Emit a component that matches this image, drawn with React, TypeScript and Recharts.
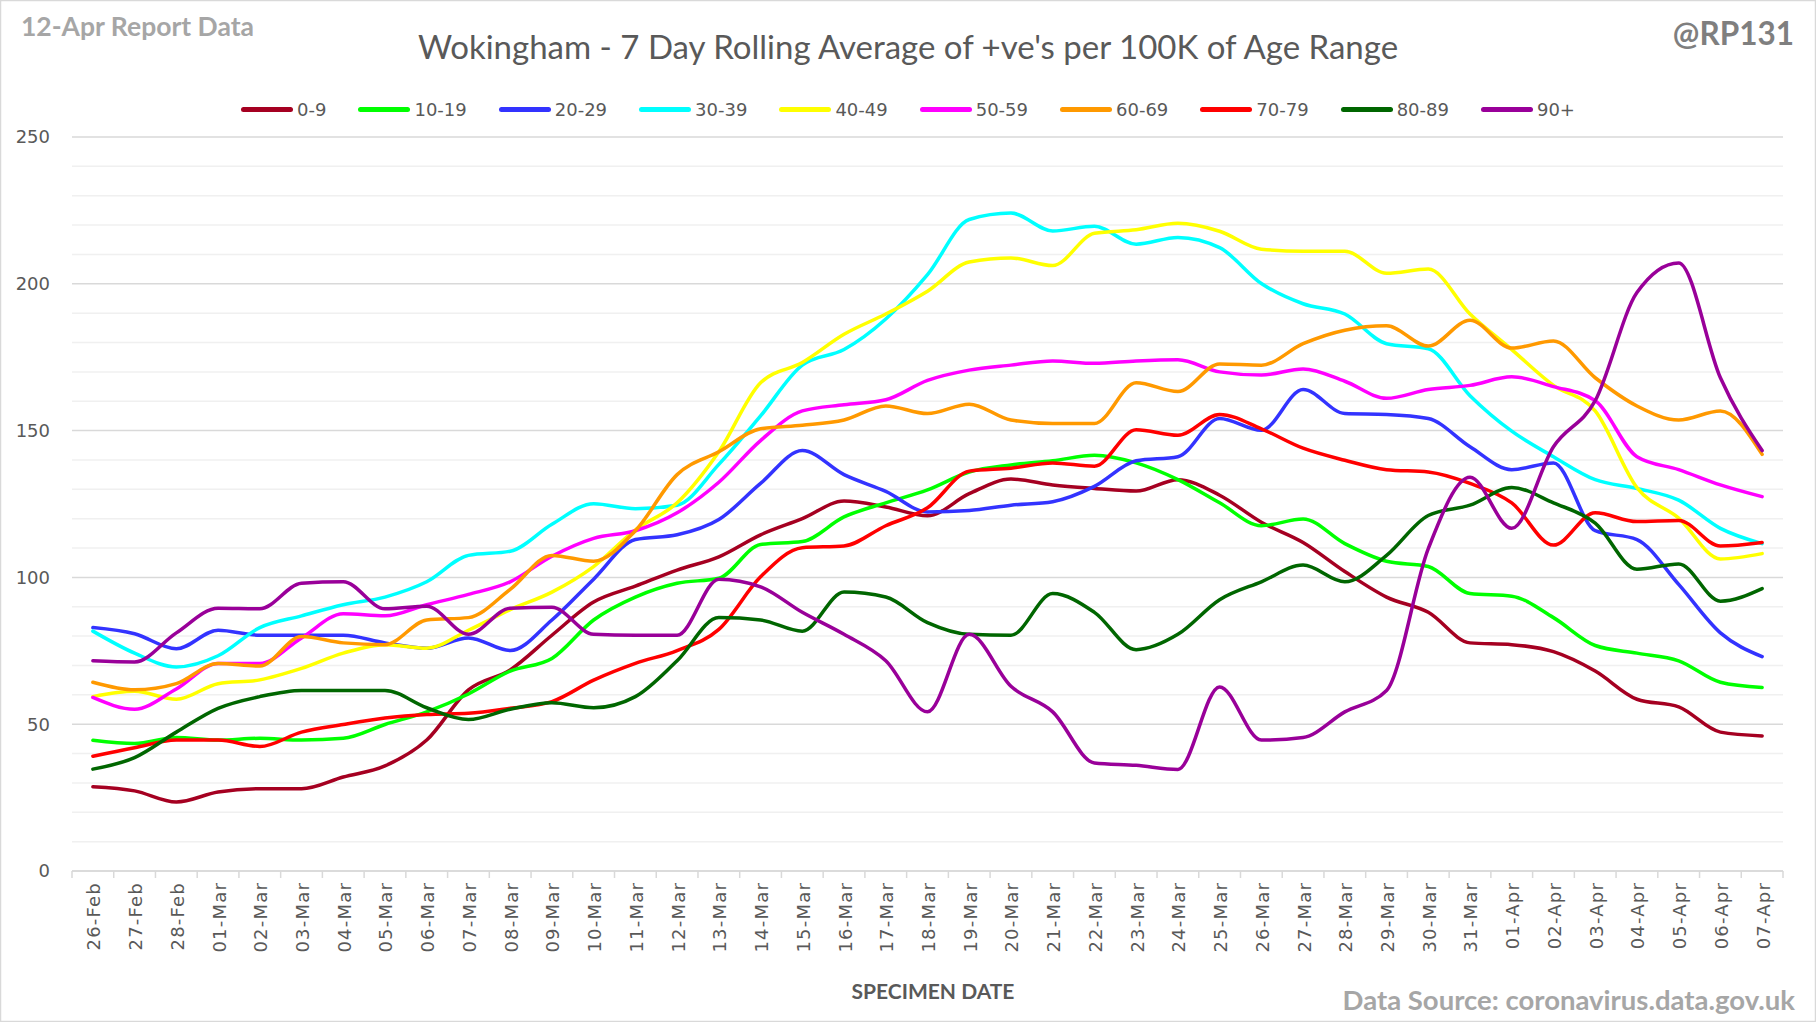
import React from 'react';
import { LineChart, Line, XAxis, YAxis, CartesianGrid, ReferenceLine } from 'recharts';

const categories = [
  '26-Feb', '27-Feb', '28-Feb',
  '01-Mar', '02-Mar', '03-Mar', '04-Mar', '05-Mar', '06-Mar', '07-Mar', '08-Mar', '09-Mar', '10-Mar',
  '11-Mar', '12-Mar', '13-Mar', '14-Mar', '15-Mar', '16-Mar', '17-Mar', '18-Mar', '19-Mar', '20-Mar',
  '21-Mar', '22-Mar', '23-Mar', '24-Mar', '25-Mar', '26-Mar', '27-Mar', '28-Mar', '29-Mar', '30-Mar', '31-Mar',
  '01-Apr', '02-Apr', '03-Apr', '04-Apr', '05-Apr', '06-Apr', '07-Apr',
];

const s0_9 = [28.7, 27.3, 23.5, 26.9, 28.0, 28.0, 32.0, 35.8, 44.6, 61.7, 68.5, 80.3, 91.6, 97.0, 102.5, 107.0, 114.5, 120.0, 126.0, 124.0, 121.0, 128.5, 133.5, 131.5, 130.3, 129.4, 133.3, 128.0, 118.8, 111.9, 102.0, 93.3, 88.1, 77.7, 77.1, 74.7, 68.1, 58.5, 55.9, 47.3, 46.0];
const s10_19 = [44.5, 43.4, 45.5, 44.6, 45.2, 44.6, 45.2, 49.9, 54.2, 60.3, 68.1, 72.4, 85.5, 93.3, 98.0, 99.7, 111.2, 112.2, 120.6, 125.4, 129.8, 135.9, 138.3, 139.7, 141.6, 139.0, 133.3, 125.4, 117.6, 119.9, 111.5, 105.5, 103.7, 94.5, 93.6, 86.3, 76.8, 74.2, 71.6, 64.3, 62.5];
const s20_29 = [82.9, 80.8, 75.7, 82.0, 80.3, 80.3, 80.3, 77.7, 75.9, 79.4, 75.1, 85.5, 99.4, 112.9, 114.5, 119.7, 132.0, 143.2, 135.0, 129.3, 122.3, 122.8, 124.6, 125.8, 131.0, 139.7, 141.1, 154.1, 150.1, 164.0, 155.8, 155.5, 154.1, 144.5, 136.7, 139.0, 115.9, 112.9, 97.6, 81.1, 73.0];
const s30_39 = [81.7, 74.2, 69.5, 73.3, 82.9, 86.9, 90.7, 93.3, 98.5, 107.5, 108.9, 118.1, 125.1, 123.4, 124.6, 138.5, 155.0, 172.3, 177.6, 188.0, 203.1, 221.9, 224.1, 218.0, 219.6, 213.5, 215.8, 212.3, 200.1, 193.2, 189.7, 179.6, 177.9, 161.9, 149.8, 141.1, 133.3, 130.3, 126.3, 116.7, 111.5];
const s40_49 = [59.4, 61.2, 58.5, 63.8, 65.1, 69.0, 74.2, 77.1, 75.9, 82.0, 89.0, 95.0, 103.7, 116.2, 125.4, 142.8, 166.3, 173.2, 182.8, 189.7, 197.5, 207.4, 208.8, 206.2, 217.2, 218.4, 220.6, 217.9, 211.8, 211.1, 211.1, 203.6, 205.0, 189.7, 177.6, 165.4, 156.7, 130.6, 120.2, 106.3, 108.1];
const s50_59 = [59.1, 55.1, 62.0, 70.7, 70.7, 79.4, 87.6, 86.9, 90.7, 94.2, 98.5, 107.2, 113.3, 115.9, 122.0, 132.4, 146.6, 156.7, 158.8, 160.5, 167.1, 170.6, 172.3, 173.7, 172.9, 173.7, 174.1, 170.0, 168.9, 171.0, 166.8, 161.0, 164.0, 165.4, 168.3, 165.0, 160.2, 141.1, 136.7, 131.5, 127.5];
const s60_69 = [64.3, 61.7, 63.8, 70.7, 69.8, 79.9, 77.7, 77.1, 85.5, 86.3, 95.9, 107.5, 105.5, 115.9, 135.0, 142.8, 150.6, 151.8, 153.6, 158.4, 155.8, 159.0, 153.6, 152.4, 152.4, 166.3, 163.3, 172.7, 172.3, 179.6, 184.2, 185.7, 178.8, 187.6, 178.1, 180.5, 168.0, 158.4, 153.6, 156.7, 141.9];
const s70_79 = [39.1, 42.0, 44.6, 44.6, 42.4, 47.3, 49.9, 52.1, 53.3, 53.7, 55.4, 57.7, 65.0, 70.7, 75.1, 82.3, 100.2, 110.1, 110.7, 117.6, 123.7, 136.2, 137.2, 139.0, 137.9, 150.3, 148.4, 155.5, 150.6, 144.0, 139.9, 136.7, 135.9, 132.0, 125.4, 111.0, 122.0, 119.0, 119.4, 110.7, 111.9];
const s80_89 = [34.7, 38.6, 47.3, 55.4, 59.4, 61.5, 61.5, 61.5, 55.6, 51.6, 55.1, 57.3, 55.6, 59.4, 71.6, 86.3, 85.5, 81.7, 95.0, 93.3, 84.6, 80.6, 80.3, 94.5, 88.1, 75.4, 80.6, 92.4, 98.5, 104.2, 98.5, 107.5, 121.1, 124.6, 130.6, 125.4, 118.5, 102.8, 104.6, 91.9, 96.2];
const s90 = [71.6, 71.2, 81.1, 89.5, 89.3, 98.0, 98.5, 89.3, 90.2, 80.6, 89.5, 89.8, 80.6, 80.3, 80.3, 99.4, 96.8, 88.1, 80.6, 71.6, 54.2, 80.6, 62.9, 54.2, 36.8, 36.0, 34.6, 62.7, 44.6, 45.5, 54.2, 61.5, 109.8, 134.1, 116.7, 144.5, 160.2, 197.0, 207.1, 168.0, 143.2];

const seriesNames = ['0-9', '10-19', '20-29', '30-39', '40-49', '50-59', '60-69', '70-79', '80-89', '90+'];
const seriesValues = [s0_9, s10_19, s20_29, s30_39, s40_49, s50_59, s60_69, s70_79, s80_89, s90];
const seriesColors = ['#a50021', '#00ff00', '#3333ff', '#00ffff', '#ffff00', '#ff00ff', '#ff9900', '#ff0000', '#006600', '#990099'];

const majorTicks = [0, 50, 100, 150, 200, 250];
const minorTicks = [10, 20, 30, 40, 60, 70, 80, 90, 110, 120, 130, 140, 160, 170, 180, 190, 210, 220, 230, 240];

const W = 1816;
const H = 1022;
const PLOT_LEFT = 72;
const PLOT_RIGHT = 1783;
const PLOT_TOP = 137;
const PLOT_BOTTOM = 871;
const BAND = (PLOT_RIGHT - PLOT_LEFT) / categories.length;

const data = categories.map((c, i) => {
  const row: Record<string, string | number> = { date: c };
  seriesNames.forEach((n, k) => {
    row[n] = seriesValues[k][i];
  });
  return row;
});

const TICK_FONT = '"DejaVu Sans", Verdana, sans-serif';
const TEXT_FONT = 'Lato, "Open Sans", sans-serif';

const XTick = (props: any) => {
  const { x, y, payload } = props;
  const half = BAND / 2;
  const isLast = payload.value === categories[categories.length - 1];
  return (
    <g>
      <line x1={x - half} x2={x - half} y1={y} y2={y + 7} stroke="#d9d9d9" strokeWidth={1.5} />
      {isLast && <line x1={x + half} x2={x + half} y1={y} y2={y + 7} stroke="#d9d9d9" strokeWidth={1.5} />}
      <text
        transform={`translate(${x + 1},${y + 11}) rotate(-90)`}
        textAnchor="end"
        dy="0.36em"
        fontSize={18}
        fontFamily={TICK_FONT}
        fill="#595959"
        letterSpacing={1.2}
      >
        {payload.value}
      </text>
    </g>
  );
};

export default function App() {
  return (
    <div style={{ position: 'absolute', left: 0, top: 0, width: W, height: H, background: '#ffffff', overflow: 'hidden' }}>
      <LineChart
        width={W}
        height={H}
        data={data}
        margin={{ top: PLOT_TOP, right: W - PLOT_RIGHT, bottom: 0, left: 0 }}
      >
        <CartesianGrid vertical={false} horizontal={false} />
        {minorTicks.map((v) => (
          <ReferenceLine key={'m' + v} y={v} stroke="#f0f0f0" strokeWidth={1.5} ifOverflow="visible" />
        ))}
        {majorTicks.map((v) => (
          <ReferenceLine key={'M' + v} y={v} stroke="#d9d9d9" strokeWidth={1.5} ifOverflow="visible" />
        ))}
        <XAxis
          dataKey="date"
          interval={0}
          height={H - PLOT_BOTTOM}
          padding={{ left: BAND / 2, right: BAND / 2 }}
          tickLine={false}
          tickSize={0}
          tickMargin={0}
          axisLine={{ stroke: '#d9d9d9', strokeWidth: 1.5 }}
          tick={<XTick />}
        />
        <YAxis
          width={PLOT_LEFT}
          domain={[0, 250]}
          ticks={majorTicks}
          tickLine={false}
          axisLine={false}
          tickSize={0}
          tickMargin={22}
          tick={{ fontSize: 18, fontFamily: TICK_FONT, fill: '#595959' }}
        />
        {seriesNames.map((n, k) => (
          <Line
            key={n}
            type="monotone"
            dataKey={n}
            stroke={seriesColors[k]}
            strokeWidth={3.5}
            dot={false}
            activeDot={false}
            strokeLinecap="round"
            isAnimationActive={false}
          />
        ))}
      </LineChart>

      <svg width={W} height={H} style={{ position: 'absolute', left: 0, top: 0, pointerEvents: 'none' }}>
        <text x={21} y={26} dominantBaseline="central" fontFamily={TEXT_FONT} fontWeight={700} fontSize={26.5} fill="#a6a6a6">
          12-Apr Report Data
        </text>
        <text x={908} y={46} textAnchor="middle" dominantBaseline="central" fontFamily={TEXT_FONT} fontSize={33} fill="#595959">
          Wokingham - 7 Day Rolling Average of +ve's per 100K of Age Range
        </text>
        <text x={1794} y={33} textAnchor="end" dominantBaseline="central" fontFamily={TEXT_FONT} fontWeight={700} fontSize={31.5} fill="#7f7f7f">
          @RP131
        </text>
        <text x={933} y={990} textAnchor="middle" dominantBaseline="central" fontFamily={TEXT_FONT} fontWeight={700} fontSize={21} fill="#595959">
          SPECIMEN DATE
        </text>
        <text x={1795} y={999} textAnchor="end" dominantBaseline="central" fontFamily={TEXT_FONT} fontWeight={700} fontSize={27.5} fill="#a6a6a6">
          Data Source: coronavirus.data.gov.uk
        </text>
        <rect x={0.5} y={0.5} width={W - 1} height={H - 1} fill="none" stroke="#d9d9d9" strokeWidth={1.5} />
      </svg>

      <div
        style={{
          position: 'absolute',
          left: 0,
          top: 97,
          width: W,
          height: 24,
          display: 'flex',
          justifyContent: 'center',
          alignItems: 'center',
          gap: 32,
          fontFamily: TICK_FONT,
          fontSize: 18,
          color: '#595959',
        }}
      >
        {seriesNames.map((n, k) => (
          <div key={n} style={{ display: 'flex', alignItems: 'center' }}>
            <span style={{ display: 'inline-block', width: 52, height: 5, borderRadius: 3, background: seriesColors[k], marginRight: 4 }} />
            <span>{n}</span>
          </div>
        ))}
      </div>
    </div>
  );
}
